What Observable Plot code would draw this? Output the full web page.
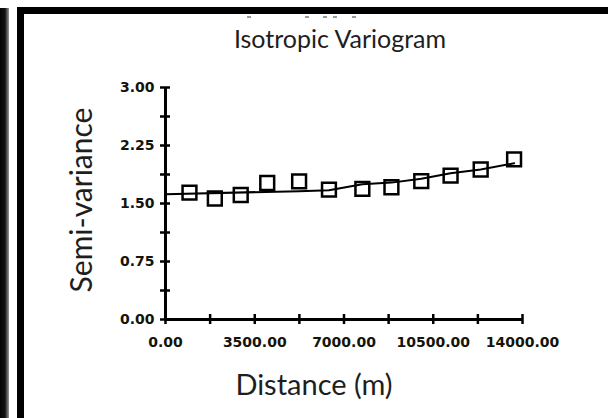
<!DOCTYPE html>
<html><head><meta charset="utf-8">
<script src="https://cdn.jsdelivr.net/npm/d3@7"></script>
<script src="https://cdn.jsdelivr.net/npm/@observablehq/plot@0.6"></script>
<style>
html,body{margin:0;padding:0;background:#fff;}
#wrap{position:relative;width:608px;height:418px;overflow:hidden;background:#fff;}
#wrap svg{position:absolute;left:0;top:0;}
.bar{position:absolute;background:#000;}
.dash{position:absolute;top:16px;width:4px;height:2px;background:#9a9a9a;}
.lbl{position:absolute;font-family:Lato,sans-serif;color:#1e1e1e;white-space:nowrap;line-height:1;}
</style></head><body>
<div id="wrap">
  <div id="chart"></div>
  <div class="bar" style="left:0;top:8px;width:9px;height:410px;background:linear-gradient(to right,#050505 0%,#111 55%,#999 100%)"></div>
  <div class="bar" style="left:17px;top:7px;width:7px;height:411px"></div>
  <div class="bar" style="left:17px;top:7px;width:591px;height:7px"></div>
  <div class="dash" style="left:247px"></div>
  <div class="dash" style="left:305px"></div>
  <div class="dash" style="left:323px"></div>
  <div class="dash" style="left:333px"></div>
  <div class="dash" style="left:352px"></div>
  <div class="lbl" style="left:340px;top:26px;font-size:25px;transform:translateX(-50%)">Isotropic Variogram</div>
  <div class="lbl" style="left:314px;top:369px;font-size:29px;transform:translateX(-50%)">Distance (m)</div>
  <div class="lbl" style="left:80px;top:200px;font-size:30px;transform:translate(-50%,-50%) rotate(-90deg)">Semi-variance</div>
</div>
<script>
const lagDistance = [940, 1935, 2950, 3990, 5240, 6410, 7720, 8860, 10030, 11180, 12360, 13670];
const semivariance = [1.64, 1.565, 1.61, 1.765, 1.785, 1.68, 1.69, 1.71, 1.79, 1.86, 1.94, 2.07];
const modelDistance = [0, 5240, 6410, 7720, 8860, 10030, 11180, 12360, 13670];
const modelValue = [1.62, 1.66, 1.67, 1.75, 1.77, 1.82, 1.89, 1.94, 2.02];
const yTicks = [0, 0.375, 0.75, 1.125, 1.5, 1.875, 2.25, 2.625, 3];
const yLabels = [0, 0.75, 1.5, 2.25, 3];
const xTicks = [0, 1750, 3500, 5250, 7000, 8750, 10500, 12250, 14000];
const xLabels = [0, 3500, 7000, 10500, 14000];

const pts = lagDistance.map((d, i) => ({d, v: semivariance[i]}));
const model = modelDistance.map((d, i) => ({d, v: modelValue[i]}));
const fmt = d => d.toFixed(2);

const chart = Plot.plot({
  width: 608, height: 418,
  marginLeft: 165, marginRight: 86, marginTop: 87, marginBottom: 99,
  style: {fontFamily: "DejaVu Sans", fontSize: "14px", fontWeight: "bold", color: "#141408", background: "transparent"},
  x: {domain: [0, 14000], label: null},
  y: {domain: [0, 3], label: null},
  marks: [
    Plot.axisY({ticks: yTicks, tickSize: 10, dx: 5, tickFormat: () => "", strokeWidth: 2.5, stroke: "#000", label: null}),
    Plot.axisY({ticks: yLabels, tickSize: 0, tickPadding: 11, tickFormat: fmt, label: null}),
    Plot.axisX({ticks: xTicks, tickSize: 10, dy: -5, tickFormat: () => "", strokeWidth: 2.5, stroke: "#000", label: null}),
    Plot.axisX({ticks: xLabels, tickSize: 0, tickPadding: 18, tickFormat: fmt, label: null}),
    Plot.ruleX([0], {stroke: "#000", strokeWidth: 3}),
    Plot.ruleY([0], {stroke: "#000", strokeWidth: 3}),
    Plot.line(model, {x: "d", y: "v", stroke: "#000", strokeWidth: 2}),
    Plot.dot(pts, {x: "d", y: "v", symbol: "square", r: 7.8, stroke: "#000", strokeWidth: 2.5, fill: "none"})
  ]
});
document.getElementById("chart").appendChild(chart);
</script>
</body></html>
